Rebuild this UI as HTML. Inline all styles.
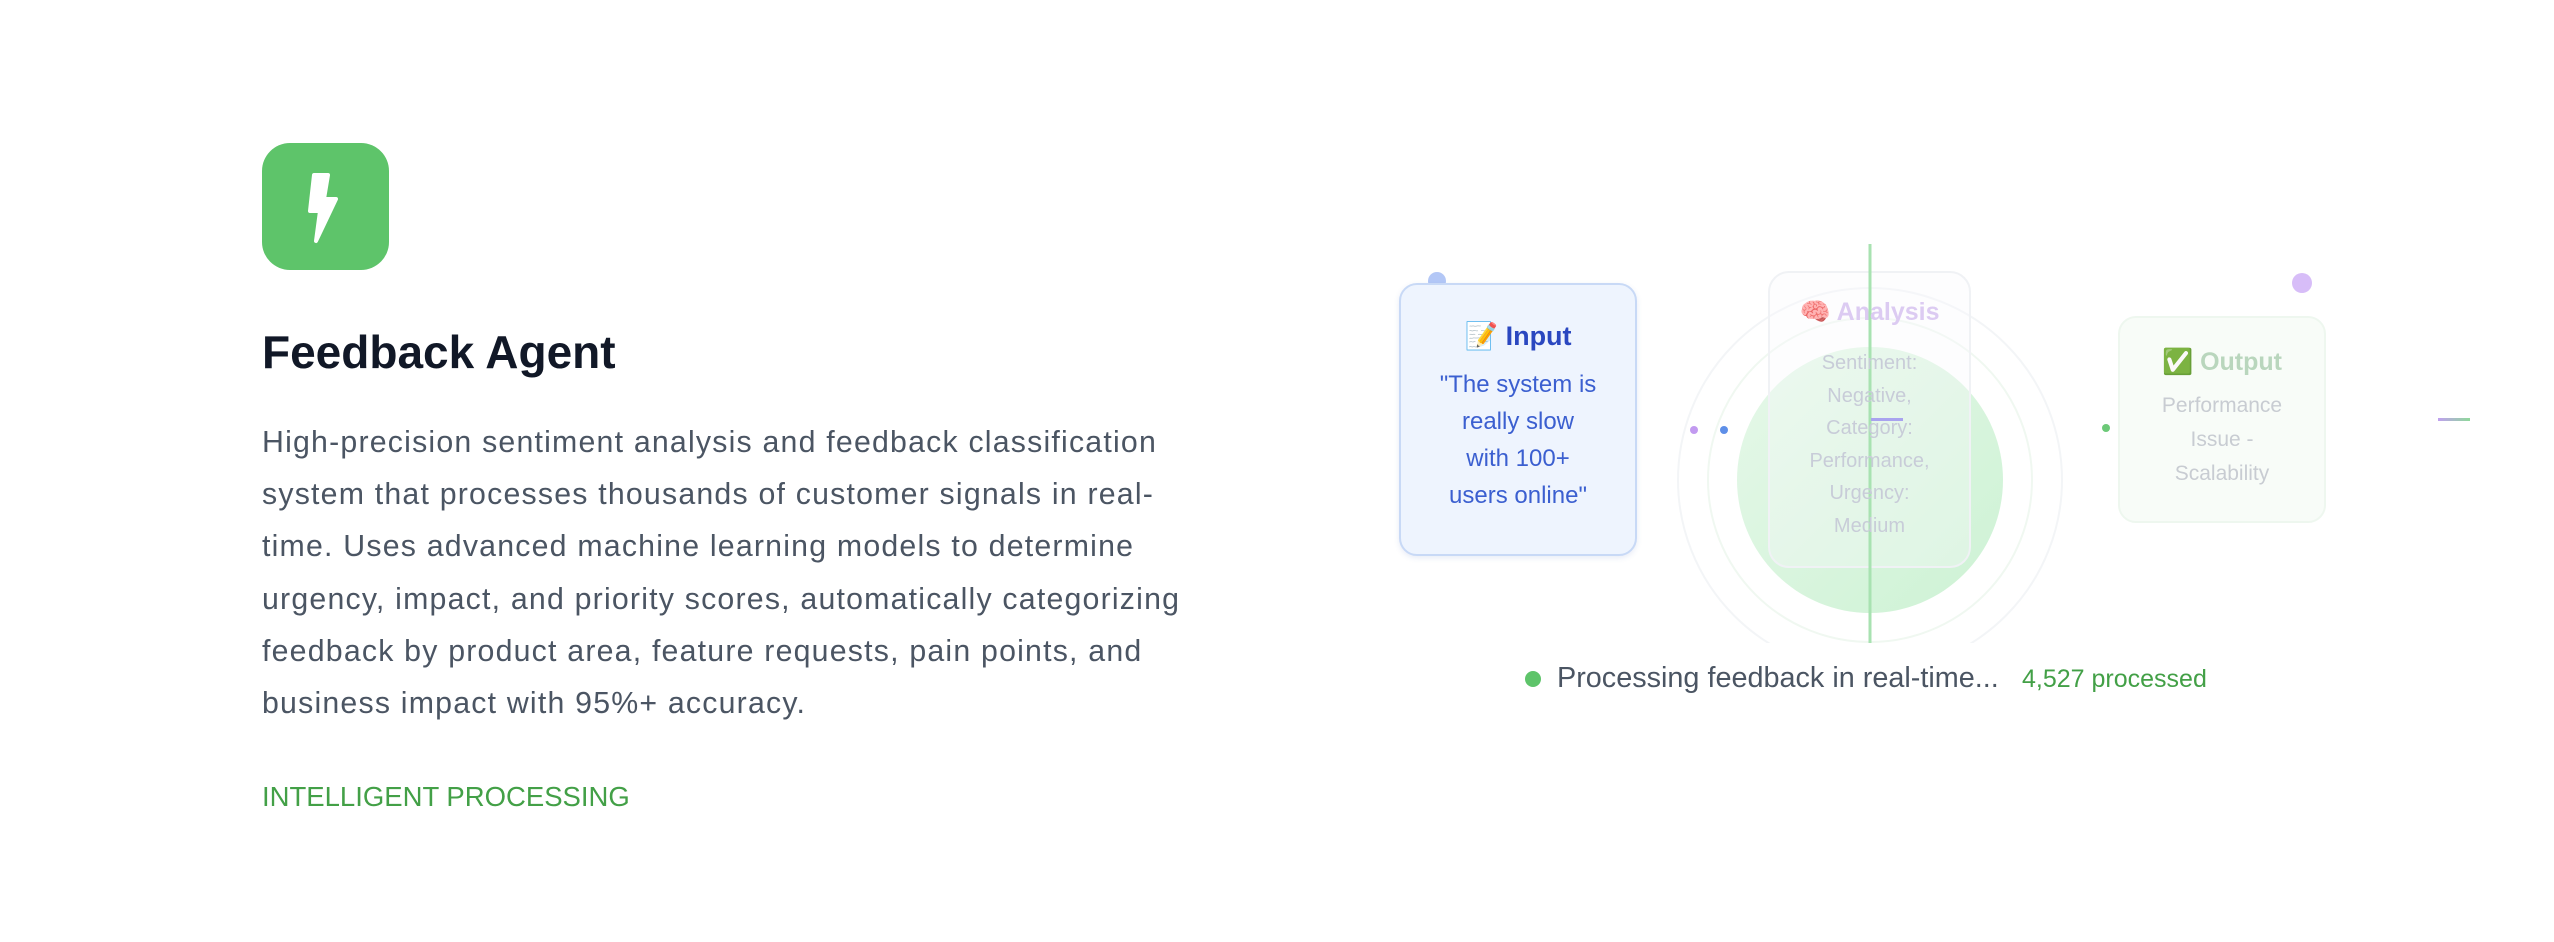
<!DOCTYPE html>
<html><head><meta charset="utf-8"><style>
*{margin:0;padding:0;box-sizing:border-box}
body{width:2554px;height:942px;background:#fff;position:relative;overflow:hidden;font-family:"Liberation Sans",sans-serif}
.a{position:absolute}
.c{text-align:center}
</style></head><body>
<div class="a" style="left:262px;top:143px;width:127px;height:127px;border-radius:28px;background:#5ec46a"></div>
<svg class="a" style="left:262px;top:143px" width="127" height="127"><path d="M52 32 L66 32 L62 56 L74 56 L54 98 L58 68 L48 68 Z" fill="#fff" stroke="#fff" stroke-width="4" stroke-linejoin="round"/></svg>
<div class="a" style="left:262px;top:325px;font-size:46px;font-weight:bold;color:#111827">Feedback Agent</div>
<div class="a" style="left:262px;top:417px;width:1100px;font-size:30.3px;letter-spacing:1.2px;line-height:52.2px;color:#4b5563;white-space:nowrap">High-precision sentiment analysis and feedback classification<br>system that processes thousands of customer signals in real-<br>time. Uses advanced machine learning models to determine<br>urgency, impact, and priority scores, automatically categorizing<br>feedback by product area, feature requests, pain points, and<br>business impact with 95%+ accuracy.</div>
<div class="a" style="left:262px;top:781px;font-size:27.5px;color:#43a047">INTELLIGENT PROCESSING</div>

<svg class="a" style="left:0;top:0" width="2554" height="942">
<defs><clipPath id="cp"><rect x="1600" y="230" width="560" height="413"/></clipPath>
<linearGradient id="g" x1="0" y1="0" x2="1" y2="1"><stop offset="0" stop-color="#e6f8e9"/><stop offset="1" stop-color="#cdf2d4"/></linearGradient>
<linearGradient id="l2" x1="0" x2="1"><stop offset="0" stop-color="#c0a0f0"/><stop offset="1" stop-color="#8fd99a"/></linearGradient></defs>
<g clip-path="url(#cp)" fill="none"><circle cx="1870" cy="480" r="192" stroke="#f3f5f7" stroke-width="2"/><circle cx="1870" cy="480" r="162" stroke="#f0f8f1" stroke-width="2"/></g>
<circle cx="1870" cy="480" r="133" fill="url(#g)"/>
<rect x="1769" y="272" width="201" height="295" rx="20" fill="rgba(248,250,252,0.35)" stroke="#f0f2f5" stroke-width="2"/>
<line x1="1870" y1="244" x2="1870" y2="643" stroke="#a8e2b1" stroke-width="3"/>
<rect x="1871" y="418" width="32" height="3" fill="#a9a3ef"/>
<circle cx="1694" cy="430" r="4" fill="#c29af0"/><circle cx="1724" cy="430" r="4" fill="#5e8fe8"/>
<circle cx="2106" cy="428" r="4" fill="#6cc978"/><circle cx="2135" cy="428" r="4" fill="#e3d6fa"/>
<circle cx="1437" cy="281" r="9" fill="#b3c7f6"/>
<circle cx="2302" cy="283" r="10" fill="#d7bdf8"/>
<rect x="2438" y="418" width="32" height="3" fill="url(#l2)"/>
</svg>

<div class="a c" style="left:1399px;top:283px;width:238px;height:273px;border:2px solid #c8d9f6;border-radius:18px;background:#eef4fe;box-shadow:0 2px 6px rgba(60,90,180,0.12)">
<div style="margin-top:35px;font-size:27px;font-weight:bold;color:#2a47c0">📝 Input</div>
<div style="margin-top:14px;font-size:24px;line-height:37px;color:#3b5fd0">"The system is<br>really slow<br>with 100+<br>users online"</div>
</div>

<div class="a c" style="left:1769px;top:298px;width:201px;font-size:25px;font-weight:bold;color:#dccbf2">🧠 Analysis</div>
<div class="a c" style="left:1769px;top:347px;width:201px;font-size:20px;line-height:32.5px;color:#c8ccd8">Sentiment:<br>Negative,<br>Category:<br>Performance,<br>Urgency:<br>Medium</div>

<div class="a c" style="left:2118px;top:316px;width:208px;height:207px;border:2px solid #eef7ef;border-radius:18px;background:#f8fcf8">
<div style="margin-top:30px;font-size:25px;font-weight:bold;color:#b9d6bd">✅ Output</div>
<div style="margin-top:12px;font-size:21px;line-height:34px;color:#c8ccd2">Performance<br>Issue -<br>Scalability</div>
</div>

<div class="a" style="left:1525px;top:671px;width:16px;height:16px;border-radius:50%;background:#5ec46a"></div>
<div class="a" style="left:1557px;top:662px;font-size:28.8px;color:#4b5563;white-space:nowrap">Processing feedback in real-time...</div>
<div class="a" style="left:2022px;top:665px;font-size:25px;color:#43a047;white-space:nowrap">4,527 processed</div>
</body></html>
